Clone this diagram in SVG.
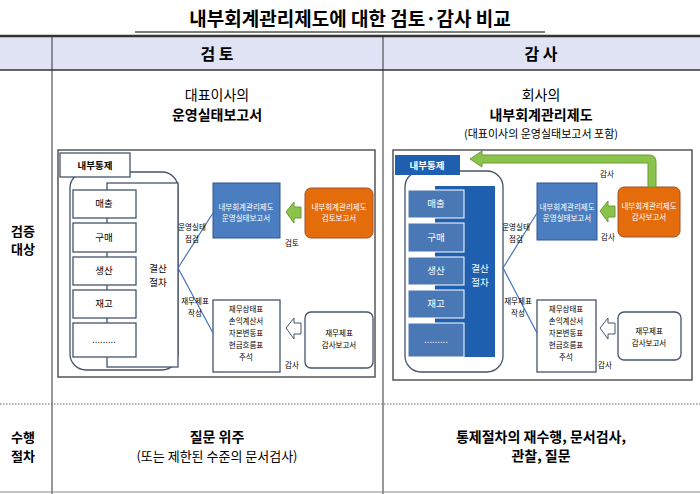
<svg xmlns="http://www.w3.org/2000/svg" width="700" height="494" viewBox="0 0 700 494">
<defs><style>
text{font-family:"Noto Sans CJK KR","Noto Sans",sans-serif;text-anchor:middle;fill:#000}
.t{font-size:9.5px}.s{font-size:7.5px}.w{fill:#fff}
.b{font-weight:bold}
.ln{stroke:#4472c4;stroke-width:1.2;fill:none}
.frame{fill:#fff;stroke:#555;stroke-width:1.5}
.itemL{fill:#fff;stroke:#44546a;stroke-width:1.3}
.itemR{fill:#4a78b5;stroke:#fff;stroke-width:1}
</style></defs>
<rect width="700" height="494" fill="#fff"/>
<g id="title"><text x="350" y="26" font-size="19" font-weight="bold">내부회계관리제도에 대한 검토·감사 비교</text>
<line x1="135" y1="32" x2="545" y2="32" stroke="#000" stroke-width="1.2"/></g>
<g id="table">
<rect x="0" y="36" width="700" height="34" fill="#dfe3f4"/>
<line x1="0" y1="36" x2="700" y2="36" stroke="#333" stroke-width="2.5"/>
<line x1="0" y1="70" x2="700" y2="70" stroke="#333" stroke-width="1.5"/>
<line x1="52" y1="36" x2="52" y2="494" stroke="#333" stroke-width="1"/>
<line x1="383" y1="36" x2="383" y2="494" stroke="#333" stroke-width="1"/>
<line x1="0" y1="404" x2="700" y2="404" stroke="#666" stroke-dasharray="1.5,1.5"/>
<line x1="0" y1="492" x2="700" y2="492" stroke="#888"/>
<text x="217" y="60" font-size="16" class="b">검 토</text>
<text x="541" y="60" font-size="16" class="b">감 사</text>
<text x="217" y="100" font-size="14">대표이사의</text>
<text x="217" y="120" font-size="14" class="b">운영실태보고서</text>
<text x="541" y="100" font-size="14">회사의</text>
<text x="541" y="120" font-size="14" class="b">내부회계관리제도</text>
<text x="541" y="138" font-size="11">(대표이사의 운영실태보고서 포함)</text>
<text x="23" y="236" font-size="13" class="b">검증</text>
<text x="23" y="254" font-size="13" class="b">대상</text>
<text x="23" y="442" font-size="13" class="b">수행</text>
<text x="23" y="461" font-size="13" class="b">절차</text>
<text x="217" y="442" font-size="14" class="b">질문 위주</text>
<text x="217" y="461" font-size="13">(또는 제한된 수준의 문서검사)</text>
<text x="541" y="442" font-size="14" class="b">통제절차의 재수행, 문서검사,</text>
<text x="541" y="461" font-size="14" class="b">관찰, 질문</text>
</g>
<g id="leftPanel">
<rect x="58" y="150" width="317" height="227" class="frame"/>
<rect x="70" y="172" width="108" height="198" rx="16" fill="#fff" stroke="#44546a" stroke-width="1.3"/>
<rect x="107" y="183" width="71" height="184" fill="#fff" stroke="#44546a" stroke-width="1.3"/>
<rect x="60" y="153" width="70" height="24" fill="#fff" stroke="#44546a" stroke-width="1.3"/>
<text x="95" y="169" class="t b">내부통제</text>
<rect x="73" y="190" width="63" height="28" class="itemL"/><text x="104" y="207" class="t">매출</text>
<rect x="73" y="223" width="63" height="29" class="itemL"/><text x="104" y="241" class="t">구매</text>
<rect x="73" y="257" width="63" height="28" class="itemL"/><text x="104" y="274" class="t">생산</text>
<rect x="73" y="290" width="63" height="28" class="itemL"/><text x="104" y="307" class="t">재고</text>
<rect x="73" y="323" width="63" height="34" class="itemL"/><text x="104" y="343" class="t">.........</text>
<text x="158" y="272" class="t">결산</text><text x="158" y="286" class="t">절차</text>
<rect x="213" y="183" width="67" height="55" fill="#4a7ec0" stroke="#2f5597"/>
<text x="246" y="210" class="s w">내부회계관리제도</text><text x="246" y="221" class="s w">운영실태보고서</text>
<rect x="305" y="188" width="68" height="50" rx="6" fill="#e46c0a" stroke="#a0522d"/>
<text x="339" y="210" class="s w">내부회계관리제도</text><text x="339" y="221" class="s w">검토보고서</text>
<polygon points="286,212 294,202 294,207 301,207 301,218 294,218 294,223" fill="#8bc34a" stroke="#6a9b36"/>
<text x="292" y="246" class="s">검토</text>
<rect x="213" y="300" width="67" height="72" fill="#fff" stroke="#44546a" stroke-width="1.3"/>
<text x="246" y="312" class="s">재무상태표</text><text x="246" y="324" class="s">손익계산서</text><text x="246" y="336" class="s">자본변동표</text><text x="246" y="348" class="s">현금흐름표</text><text x="246" y="360" class="s">주석</text>
<polygon points="286,328 294,318 294,323 301,323 301,334 294,334 294,339" fill="#fff" stroke="#44546a"/>
<text x="292" y="368" class="s">감사</text>
<rect x="305" y="312" width="68" height="56" rx="6" fill="#fff" stroke="#44546a" stroke-width="1.3"/>
<text x="339" y="336" class="s">재무제표</text><text x="339" y="348" class="s">감사보고서</text>
</g>
<g id="rightPanel">
<rect x="393" y="150" width="299" height="230" class="frame"/>
<rect x="405" y="171" width="98" height="201" rx="16" fill="#fff" stroke="#44546a" stroke-width="1.3"/>
<rect x="435" y="186" width="60" height="171" fill="#1f5fb0"/>
<rect x="395" y="155" width="65" height="20" fill="#1f5fb0"/>
<text x="427" y="169" class="t w b">내부통제</text>
<rect x="408" y="190" width="56" height="28" class="itemR"/><text x="436" y="207" class="t w">매출</text>
<rect x="408" y="223" width="56" height="29" class="itemR"/><text x="436" y="241" class="t w">구매</text>
<rect x="408" y="257" width="56" height="28" class="itemR"/><text x="436" y="274" class="t w">생산</text>
<rect x="408" y="290" width="56" height="28" class="itemR"/><text x="436" y="307" class="t w">재고</text>
<rect x="408" y="323" width="56" height="34" class="itemR"/><text x="436" y="343" class="t w">.........</text>
<text x="480" y="272" class="t w">결산</text><text x="480" y="286" class="t w">절차</text>
<rect x="537" y="183" width="60" height="57" fill="#4a7ec0" stroke="#2f5597"/>
<text x="567" y="210" class="s w">내부회계관리제도</text><text x="567" y="221" class="s w">운영실태보고서</text>
<rect x="618" y="187" width="62" height="50" rx="6" fill="#e46c0a" stroke="#a0522d"/>
<text x="649" y="209" class="s w">내부회계관리제도</text><text x="649" y="220" class="s w">감사보고서</text>
<polygon points="600,211 608,201 608,206 615,206 615,217 608,217 608,222" fill="#8bc34a" stroke="#6a9b36"/>
<path d="M656,187 L656,162 Q656,155 649,155 L482,155 L482,151 L470,159 L482,167 L482,163 L648,163 L648,187 Z" fill="#8bc34a" stroke="#6a9b36"/>
<text x="608" y="240" class="s">감사</text>
<text x="607" y="177" class="s">감사</text>
<rect x="537" y="300" width="59" height="72" fill="#fff" stroke="#44546a" stroke-width="1.3"/>
<text x="566" y="312" class="s">재무상태표</text><text x="566" y="324" class="s">손익계산서</text><text x="566" y="336" class="s">자본변동표</text><text x="566" y="348" class="s">현금흐름표</text><text x="566" y="360" class="s">주석</text>
<polygon points="600,328 608,318 608,323 615,323 615,334 608,334 608,339" fill="#fff" stroke="#44546a"/>
<text x="605" y="368" class="s">감사</text>
<rect x="618" y="312" width="63" height="48" rx="6" fill="#fff" stroke="#44546a" stroke-width="1.3"/>
<text x="649" y="334" class="s">재무제표</text><text x="649" y="346" class="s">감사보고서</text>
</g>
<g id="connectors">
<path class="ln" d="M178,268 L213,213 M178,268 L213,333"/>
<path class="ln" d="M503,268 L537,213 M503,268 L537,333"/>
<text x="192" y="230" class="s">운영실태</text><text x="192" y="242" class="s">점검</text>
<text x="195" y="304" class="s">재무제표</text><text x="195" y="316" class="s">작성</text>
<text x="516" y="230" class="s">운영실태</text><text x="516" y="242" class="s">점검</text>
<text x="518" y="304" class="s">재무제표</text><text x="518" y="316" class="s">작성</text>
</g>
</svg>
